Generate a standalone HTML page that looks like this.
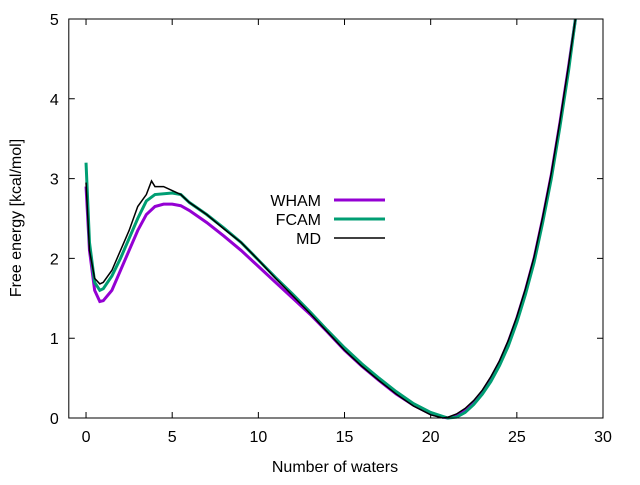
<!DOCTYPE html>
<html><head><meta charset="utf-8"><style>body{margin:0;background:#fff}svg text{font-family:"Liberation Sans",sans-serif;font-size:16px}</style></head>
<body>
<svg id="c" width="640" height="480" xmlns="http://www.w3.org/2000/svg"></svg>
<script>
const xTicks=[0,5,10,15,20,25,30];
const yTicks=[0,1,2,3,4,5];
const whamX=[0,0.2,0.5,0.8,1,1.5,2,2.5,3,3.5,4,4.5,5,5.5,6,7,8,9,10,11,12,13,14,15,16,17,18,19,20,20.7,21,21.5,22,22.5,23,23.5,24,24.5,25,25.5,26,26.5,27,27.5,28,28.4];
const whamY=[2.9,2.1,1.6,1.46,1.47,1.6,1.85,2.1,2.35,2.55,2.65,2.68,2.68,2.66,2.6,2.45,2.28,2.1,1.9,1.7,1.5,1.3,1.08,0.85,0.65,0.47,0.3,0.16,0.05,0.01,0,0.03,0.1,0.2,0.33,0.5,0.7,0.95,1.25,1.6,2.0,2.5,3.05,3.7,4.4,5.0];
const fcamX=[0,0.2,0.5,0.8,1,1.5,2,2.5,3,3.5,4,5,5.5,6,7,8,9,10,11,12,13,14,15,16,17,18,19,20,20.7,21,21.5,22,22.5,23,23.5,24,24.5,25,25.5,26,26.5,27,27.5,28,28.4];
const fcamY=[3.2,2.2,1.7,1.6,1.62,1.78,2.0,2.25,2.5,2.72,2.8,2.82,2.8,2.7,2.55,2.38,2.2,1.98,1.76,1.55,1.33,1.1,0.88,0.68,0.5,0.33,0.18,0.07,0.02,0,0.01,0.07,0.17,0.3,0.46,0.66,0.9,1.2,1.55,1.95,2.45,3.0,3.65,4.35,5.0];
const mdX=[0,0.2,0.5,0.8,1,1.5,2,2.5,3,3.5,3.8,4,4.5,5,5.5,6,7,8,9,10,11,12,13,14,15,16,17,18,19,20,20.7,21,21.5,22,22.5,23,23.5,24,24.5,25,25.5,26,26.5,27,27.5,28,28.4];
const mdY=[2.95,2.1,1.75,1.68,1.7,1.85,2.1,2.35,2.65,2.8,2.97,2.9,2.9,2.85,2.8,2.7,2.55,2.37,2.2,1.98,1.75,1.53,1.31,1.08,0.85,0.65,0.47,0.3,0.15,0.04,0.0,0.01,0.05,0.12,0.22,0.35,0.52,0.72,0.97,1.27,1.62,2.02,2.52,3.07,3.72,4.42,5.0];
const L=68.8,R=603,T=19,B=418;
const sx=v=>L+(v+1)*(R-L)/31, sy=v=>B-v*(B-T)/5;
const NS="http://www.w3.org/2000/svg",svg=document.getElementById('c');
function mk(t,a){const e=document.createElementNS(NS,t);for(const k in a)e.setAttribute(k,a[k]);svg.appendChild(e);return e;}
xTicks.forEach(v=>{const x=sx(v);
const t=mk('path',{d:`M${x} ${B}v-6M${x} ${T}v6`,stroke:'#000'});


const l=mk('text',{x:x,y:B+24,'text-anchor':'middle'});l.textContent=v;

});
yTicks.forEach(v=>{const y=sy(v);
const t=mk('path',{d:`M${L} ${y}h6M${R} ${y}h-6`,stroke:'#000'});


const l=mk('text',{x:L-10,y:y+6,'text-anchor':'end'});l.textContent=v;

});
const series=[[whamX,whamY,'#9400d3',3,'wham-line'],[fcamX,fcamY,'#009e73',3,'fcam-line'],[mdX,mdY,'#000',1.5,'md-line']];
series.forEach(s=>{const p=mk('polyline',{points:s[0].map((x,i)=>sx(x)+','+sy(s[1][i])).join(' '),fill:'none',stroke:s[2],'stroke-width':s[3]});

});
const names=['WHAM','FCAM','MD'];
series.forEach((s,i)=>{const y=200+i*19;
const t=mk('text',{x:321,y:y+6,'text-anchor':'end'});t.textContent=names[i];


const l=mk('line',{x1:334,x2:385,y1:y,y2:y,stroke:s[2],'stroke-width':s[3]});

});
const f=mk('rect',{x:L,y:T,width:R-L,height:B-T,fill:'none',stroke:'#000'});


const xt=mk('text',{x:335,y:472,'text-anchor':'middle'});xt.textContent='Number of waters';


const yt=mk('text',{x:0,y:0,'text-anchor':'middle',transform:'translate(21,218) rotate(-90)'});yt.textContent='Free energy [kcal/mol]';


</script>
</body></html>
